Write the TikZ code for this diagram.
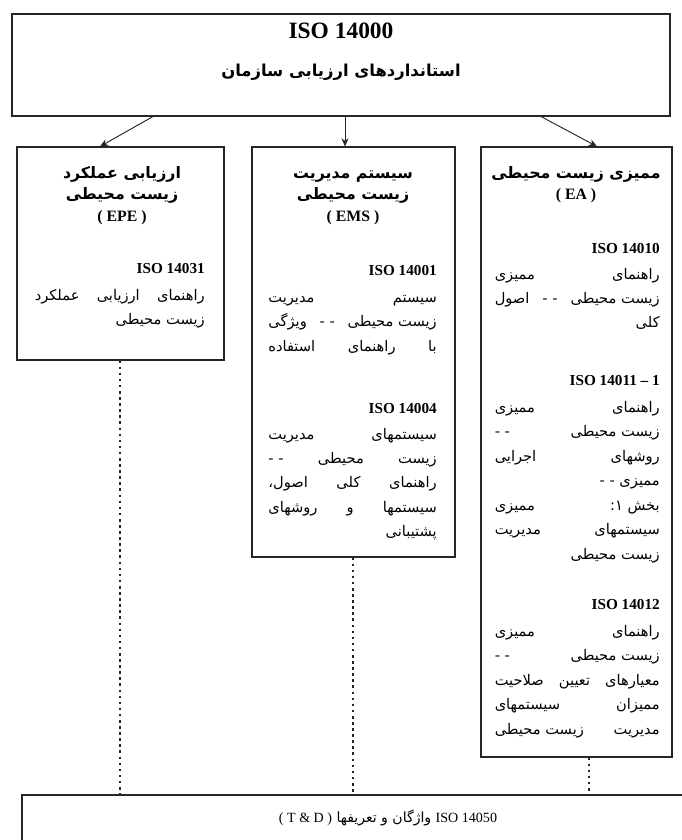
\documentclass[tikz,border=0pt]{standalone}
\usepackage{fontspec}
\setmainfont{Liberation Serif}
\newfontfamily\fa[Script=Arabic]{DejaVu Sans}
\TeXXeTstate=1
\usetikzlibrary{arrows.meta,fit}
\newcommand\J[2]{\hbox to #1{#2}}
\newcommand\iso[1]{{\rmfamily\bfseries\fontsize{13}{20.9}\selectfont #1}}
\tikzset{
  box/.style={draw=black!85, line width=0.9pt, inner sep=0pt},
  arr/.style={draw=black!85, line width=0.8pt, -{Stealth[length=7pt,width=6pt]}},
  dots/.style={draw=black!85, line width=1pt, dash pattern=on 2.2pt off 3pt},
  ttl/.style={inner sep=0pt, align=center, font=\fa\bfseries\fontsize{13.5}{18.3}\selectfont},
  body/.style={inner sep=0pt, align=right, font=\fa\fontsize{12.5}{20.9}\selectfont},
}
\begin{document}
\begin{tikzpicture}[x=0.03cm, y=-0.03cm]
\useasboundingbox (0,0) rectangle (682,840);
\fill[white] (0,0) rectangle (682,840);
\clip (0,0) rectangle (682,840);

% top box
\node[box, fit={(12,14)(670,116)}] (top) {};
\node[inner sep=0pt, font=\bfseries\fontsize{20}{24}\selectfont] (t1) at (341,31) {ISO 14000};
\node[inner sep=0pt, font=\fa\bfseries\fontsize{14}{18}\selectfont] (t2) at (341,72) {\beginR استانداردهای ارزیابی سازمان\endR};

% three boxes
\node[box, fit={(17,147)(224,360)}] (epe) {};
\node[box, fit={(252,147)(455,557)}] (ems) {};
\node[box, fit={(481,147)(672,757)}] (ea) {};
% bottom box
\node[box, fit={(22,795)(720,880)}] (bot) {};

% arrows
\draw[arr] (153,0 |- top.south) -- (100,0 |- epe.north);
\draw[arr] (345,0 |- top.south) -- (345,0 |- ems.north);
\draw[arr] (541,0 |- top.south) -- (597,0 |- ea.north);

% dotted links
\draw[dots] (120,0 |- epe.south) -- (120,0 |- bot.north);
\draw[dots] (353,0 |- ems.south) -- (353,0 |- bot.north);
\draw[dots] (589,0 |- ea.south) -- (589,0 |- bot.north);

% EPE
\node[ttl, anchor=north] (epeT) at (122,163) {\strut\beginR ارزیابی عملکرد\endR\\ \beginR زیست محیطی\endR\\ {\rmfamily ( EPE )}};
\node[body, anchor=north east] (epeB) at (205,263) {\iso{ISO 14031}\\[2pt]
  \J{5.1cm}{\beginR راهنمای\hfill ارزیابی\hfill عملکرد\endR}\\
  \beginR زیست محیطی\endR};

% EMS
\node[ttl, anchor=north] (emsT) at (353,163) {\strut\beginR سیستم مدیریت\endR\\ \beginR زیست محیطی\endR\\ {\rmfamily ( EMS )}};
\node[body, anchor=north east] (emsB1) at (437,265) {\iso{ISO 14001}\\[2pt]
  \J{5.05cm}{\beginR سیستم\hfill مدیریت\endR}\\
  \J{5.05cm}{\beginR زیست محیطی\hfill - -\hfill ویژگی\endR}\\
  \J{5.05cm}{\beginR با\hfill راهنمای\hfill استفاده\endR}};
\node[body, anchor=north east] (emsB2) at (437,403) {\iso{ISO 14004}\\[1pt]
  \J{5.05cm}{\beginR سیستمهای\hfill مدیریت\endR}\\
  \J{5.05cm}{\beginR زیست\hfill محیطی\hfill - -\endR}\\
  \J{5.05cm}{\beginR راهنمای\hfill کلی\hfill اصول،\endR}\\
  \J{5.05cm}{\beginR سیستمها\hfill و\hfill روشهای\endR}\\
  \beginR پشتیبانی\endR};

% EA
\node[ttl, anchor=north] (eaT) at (576,163) {\strut\beginR ممیزی زیست محیطی\endR\\ {\rmfamily ( EA )}};
\node[body, anchor=north east] (eaB1) at (660,243) {\iso{ISO 14010}\\[1pt]
  \J{4.95cm}{\beginR راهنمای\hfill ممیزی\endR}\\
  \J{4.95cm}{\beginR زیست محیطی\hfill - -\hfill اصول\endR}\\
  \beginR کلی\endR};
\node[body, anchor=north east] (eaB2) at (660,375) {\iso{ISO 14011 – 1}\\[2pt]
  \J{4.95cm}{\beginR راهنمای\hfill ممیزی\endR}\\
  \J{4.95cm}{\beginR زیست محیطی\hfill - -\endR}\\
  \J{4.95cm}{\beginR روشهای\hfill اجرایی\endR}\\
  \beginR ممیزی - -\endR\\
  \J{4.95cm}{\beginR بخش ۱:\hfill ممیزی\endR}\\
  \J{4.95cm}{\beginR سیستمهای\hfill مدیریت\endR}\\
  \beginR زیست محیطی\endR};
\node[body, anchor=north east] (eaB3) at (660,599) {\iso{ISO 14012}\\[2pt]
  \J{4.95cm}{\beginR راهنمای\hfill ممیزی\endR}\\
  \J{4.95cm}{\beginR زیست محیطی\hfill - -\endR}\\
  \J{4.95cm}{\beginR معیارهای\hfill تعیین\hfill صلاحیت\endR}\\
  \J{4.95cm}{\beginR ممیزان\hfill سیستمهای\endR}\\
  \J{4.95cm}{\beginR مدیریت\hfill زیست محیطی\endR}};

% bottom text
\node[inner sep=0pt, font=\fa\fontsize{12}{14}\selectfont] (botT) at (388,818)
  {\beginR\beginL{\rmfamily ISO 14050}\endL{} واژگان و تعریفها \beginL{\rmfamily ( T \& D )}\endL\endR};
\end{tikzpicture}
\end{document}
